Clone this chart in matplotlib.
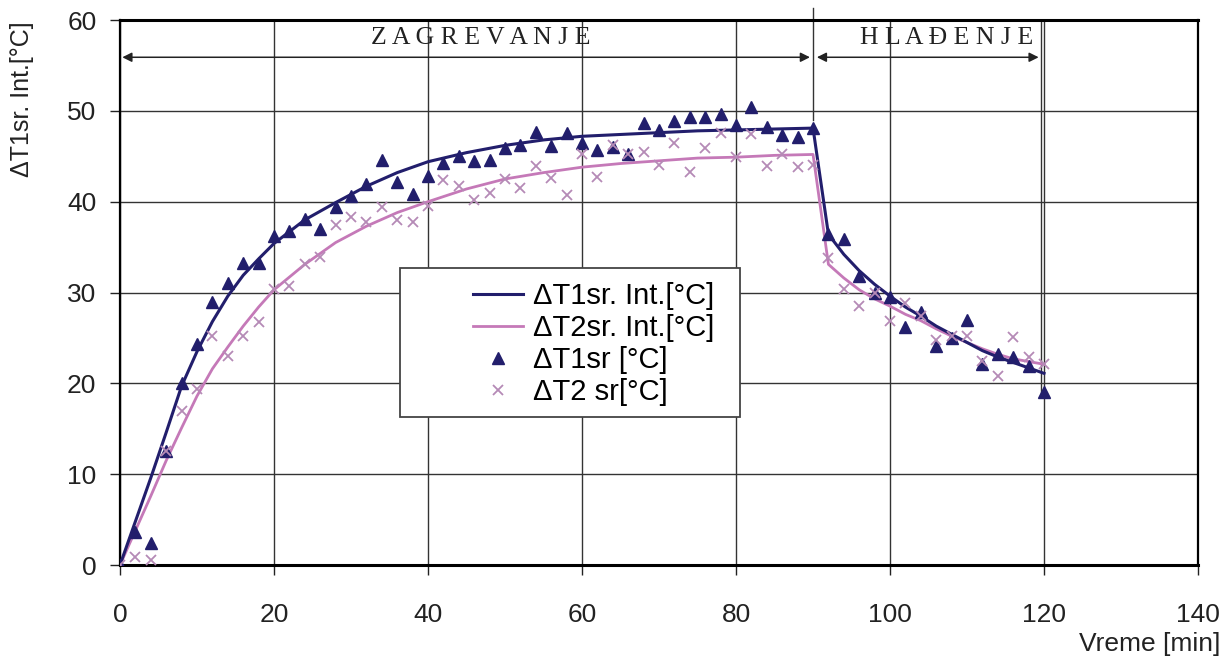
import matplotlib
matplotlib.use("Agg")
import matplotlib.pyplot as plt
from matplotlib.patches import Rectangle

plt.rcParams['font.family'] = ['Liberation Sans', 'DejaVu Sans']

# Measured averages, sampled every 2 minutes
time_pts = [0, 2, 4, 6, 8, 10, 12, 14, 16, 18, 20, 22, 24, 26, 28, 30, 32, 34, 36, 38,
            40, 42, 44, 46, 48, 50, 52, 54, 56, 58, 60, 62, 64, 66, 68, 70, 72, 74, 76, 78,
            80, 82, 84, 86, 88, 90, 92, 94, 96, 98, 100, 102, 104, 106, 108, 110, 112, 114,
            116, 118, 120]
dt1_meas = [0.0, 3.6, 2.4, 12.5, 20.0, 24.3, 29.0, 31.0, 33.3, 33.3, 36.2, 36.8, 38.1, 37.0,
            39.4, 40.6, 41.9, 44.6, 42.2, 40.9, 42.8, 44.3, 45.0, 44.5, 44.6, 45.9, 46.2, 47.7,
            46.1, 47.6, 46.5, 45.7, 46.0, 45.2, 48.7, 47.9, 48.9, 49.3, 49.3, 49.7, 48.4, 50.4,
            48.2, 47.3, 47.1, 48.1, 36.4, 35.9, 31.8, 30.0, 29.5, 26.2, 27.9, 24.1, 25.0, 27.0,
            22.1, 23.2, 22.9, 21.9, 19.1]
dt2_meas = [0.0, 0.9, 0.6, 12.6, 17.0, 19.4, 25.2, 23.0, 25.2, 26.7, 30.4, 30.7, 33.1, 33.9,
            37.4, 38.3, 37.8, 39.4, 38.0, 37.8, 39.5, 42.4, 41.7, 40.2, 41.0, 42.5, 41.5, 43.9,
            42.6, 40.7, 45.3, 42.7, 46.2, 45.3, 45.5, 44.0, 46.5, 43.3, 45.9, 47.6, 44.9, 47.5,
            43.9, 45.2, 43.8, 44.0, 33.8, 30.4, 28.5, 30.0, 26.9, 28.9, 27.4, 24.8, 25.2, 25.2,
            22.5, 20.8, 25.1, 22.9, 22.1]

# Fitted (interpolation) curves
time_fit = [0, 2, 4, 6, 8, 10, 12, 14, 16, 18, 20, 24, 28, 32, 36, 40, 45, 50, 55, 60, 65,
            70, 75, 80, 85, 90, 92, 94, 96, 98, 100, 102, 104, 106, 108, 110, 112, 114, 116,
            118, 120]
dt1_fit = [0.0, 4.8, 9.6, 14.6, 19.7, 23.5, 26.8, 29.6, 31.9, 33.7, 35.4, 38.0, 39.9, 41.7,
           43.2, 44.4, 45.4, 46.2, 46.8, 47.2, 47.4, 47.6, 47.8, 47.9, 48.0, 48.1,
           36.4, 34.2, 32.4, 30.9, 29.6, 28.4, 27.4, 26.3, 25.4, 24.5, 23.6, 22.9, 22.3,
           21.7, 21.1]
dt2_fit = [0.0, 3.8, 7.6, 11.5, 15.1, 18.6, 21.6, 24.0, 26.3, 28.4, 30.3, 33.1, 35.5, 37.3,
           38.8, 40.0, 41.4, 42.5, 43.2, 43.8, 44.2, 44.5, 44.8, 44.9, 45.1, 45.2,
           33.1, 31.6, 30.3, 29.3, 28.5, 27.6, 26.9, 26.0, 25.2, 24.5, 23.8, 23.2, 22.7,
           22.4, 22.1]

x_ticks = [0, 20, 40, 60, 80, 100, 120, 140]
y_ticks = [0, 10, 20, 30, 40, 50, 60]
phase_labels = ["Z A G R E V A N J E", "H L A Đ E N J E"]

c1 = '#221e6c'
c2 = '#c579b8'
c2m = '#b58ab6'

fig = plt.figure(figsize=(12.27, 6.63), dpi=100)
ax = fig.add_axes([0.0978, 0.1478, 0.8786, 0.822])

ax.plot(time_fit, dt1_fit, color=c1, lw=2.2, label='ΔT1sr. Int.[°C]', zorder=4)
ax.plot(time_fit, dt2_fit, color=c2, lw=2.0, label='ΔT2sr. Int.[°C]', zorder=3)
ax.plot(time_pts, dt1_meas, ls='none', marker='^', ms=9, color=c1,
        label='ΔT1sr [°C]', zorder=5)
ax.plot(time_pts, dt2_meas, ls='none', marker='x', ms=7, mew=1.3, color=c2m,
        label='ΔT2 sr[°C]', zorder=5)

ax.set_xlim(0, 140)
ax.set_ylim(0, 60)
ax.set_xticks(x_ticks)
ax.set_yticks(y_ticks)
ax.grid(True, color='#333333', lw=1.0)
ax.set_axisbelow(True)
ax.tick_params(direction='out', length=7, width=1, labelsize=19, colors='#222222')
ax.tick_params(axis='x', pad=20)
ax.tick_params(axis='y', pad=10)
for side in ['top', 'bottom']:
    ax.spines[side].set_linewidth(2.2)
for side in ['left', 'right']:
    ax.spines[side].set_linewidth(1.6)

# Phase separators and arrows
ax.plot([90, 90], [49, 61.3], color='#333333', lw=1, clip_on=False, zorder=2)
ax.plot([119.6, 119.6], [18.5, 60], color='#333333', lw=1, zorder=2)
arrow_kw = dict(arrowstyle='<|-|>', color='#222222', lw=1.1, mutation_scale=14,
                shrinkA=0, shrinkB=0)
ax.annotate('', xy=(0.3, 55.9), xytext=(89.6, 55.9), arrowprops=arrow_kw)
ax.annotate('', xy=(90.5, 55.9), xytext=(119.3, 55.9), arrowprops=arrow_kw)
ax.text(46.8, 58.0, phase_labels[0], ha='center', va='center', fontsize=18.5,
        family='Liberation Serif', color='#222222')
ax.text(107.3, 58.0, phase_labels[1], ha='center', va='center', fontsize=18.5,
        family='Liberation Serif', color='#222222')

# Legend box and entries
ax.add_patch(Rectangle((0.2597, 0.2716), 0.3154, 0.2734, transform=ax.transAxes,
                       facecolor='white', edgecolor='#444444', lw=1.3, zorder=6))
leg = ax.legend(loc='upper left', bbox_to_anchor=(0.3275, 0.519), fontsize=21,
                frameon=False, handlelength=1.7, borderpad=0, borderaxespad=0,
                labelspacing=0.14, handletextpad=0.35)
leg.set_zorder(7)

fig.text(0.018, 0.85, 'ΔT1sr. Int.[°C]', rotation=90, ha='center', va='center',
         fontsize=18, color='#222222')
fig.text(0.995, 0.028, 'Vreme [min]', ha='right', va='center', fontsize=19,
         color='#222222')

fig.savefig('out.png', dpi=100)
